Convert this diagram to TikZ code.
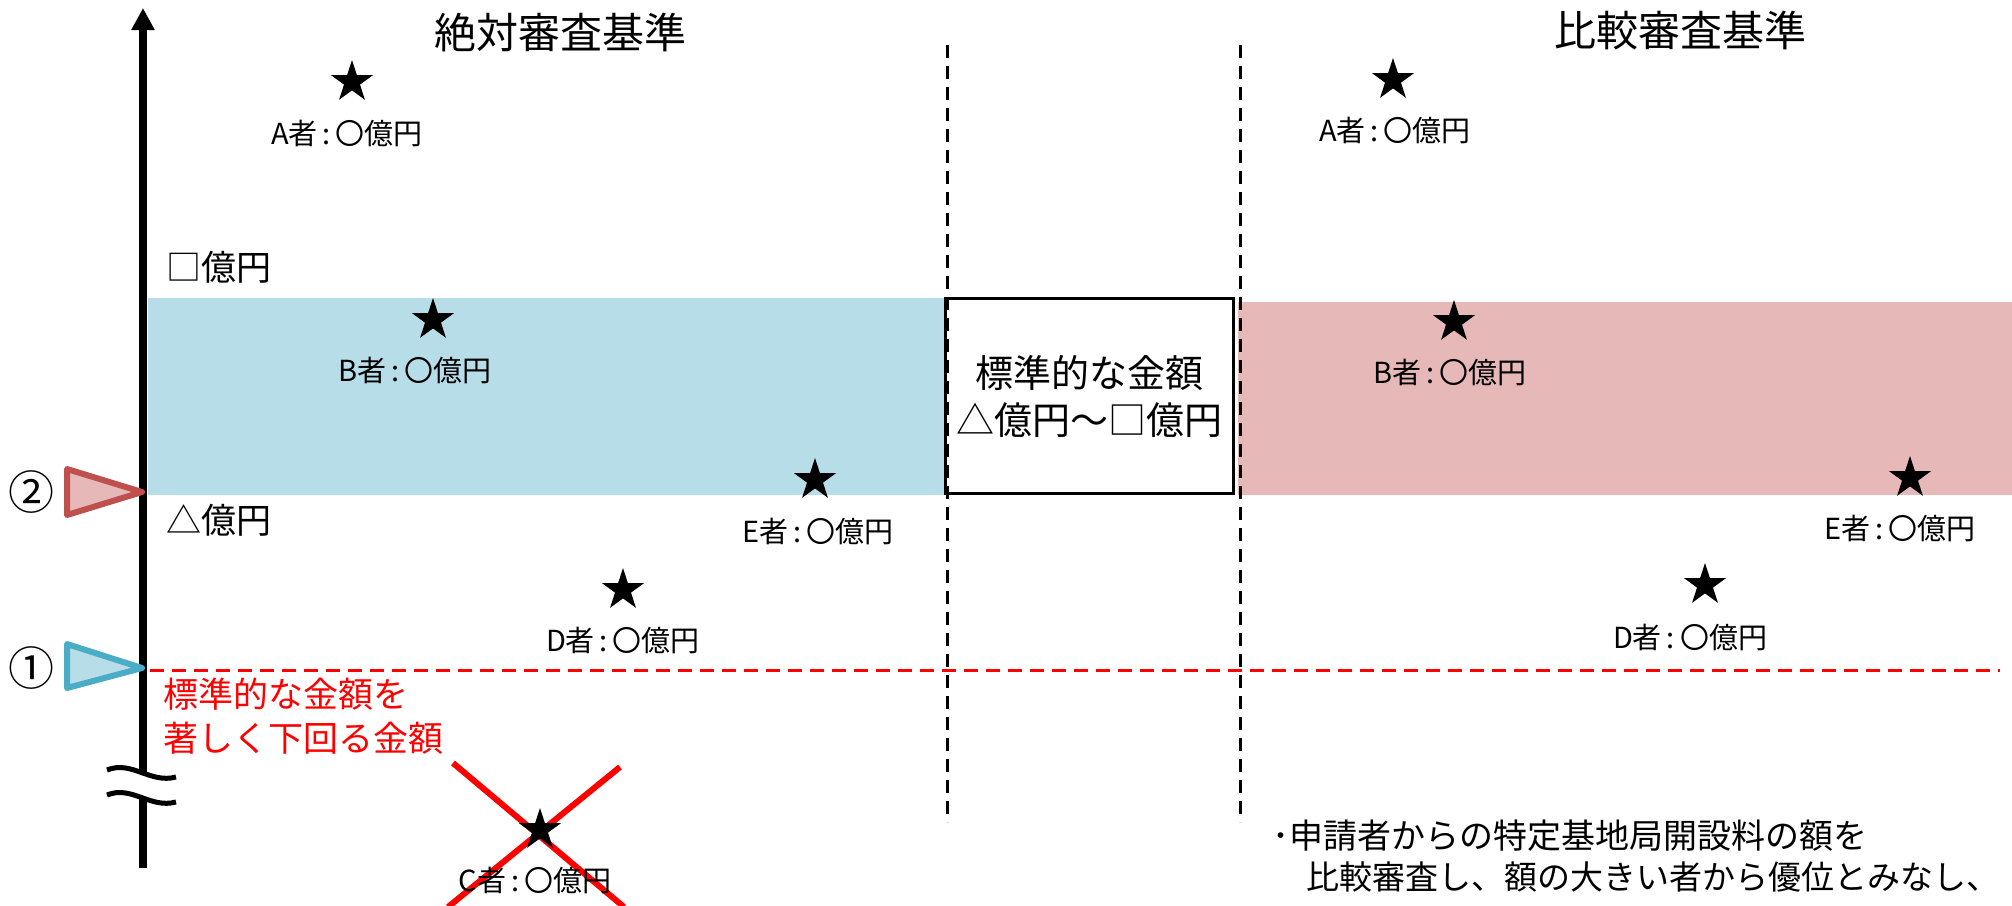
\documentclass[tikz,border=0pt]{standalone}
\usepackage{fontspec}
\setmainfont{Noto Sans CJK JP}
\newfontfamily\jp{Noto Sans CJK JP}
\usetikzlibrary{shapes.geometric,arrows.meta}
\definecolor{bandblue}{HTML}{B7DDE8}
\definecolor{bandpink}{HTML}{E6B9B8}
\definecolor{triblue}{HTML}{4BACC6}
\definecolor{tripink}{HTML}{C0504D}
\newcommand{\lbl}[1]{#1者\hspace{5pt}:\hspace{5pt}〇億円}
\tikzset{
  starmark/.style={star, star points=5, star point ratio=2.618, fill=black, minimum size=44pt, inner sep=0pt},
  lab/.style={font=\jp\fontsize{29}{34}\selectfont, inner sep=0pt},
  title/.style={font=\jp\fontsize{42}{48}\selectfont, inner sep=0pt},
  amt/.style={font=\jp\fontsize{35}{40}\selectfont, inner sep=0pt},
  redtxt/.style={font=\jp\fontsize{35}{44}\selectfont, text=red, inner sep=0pt, align=left},
  vdash/.style={line width=3pt, dash pattern=on 13pt off 8pt},
}
\begin{document}
\begin{tikzpicture}[x=1pt,y=-1pt]
\useasboundingbox (0,0) rectangle (2012,905);
% bands
\fill[bandblue] (148,298) rectangle (945,495);
\fill[bandpink] (1238,302) rectangle (2012,495);
\node[draw=black, line width=3pt, fill=white, minimum width=288pt, minimum height=195pt, inner sep=0pt] (mid) at (1089,396) {};
\node[font=\jp\fontsize{38}{47}\selectfont, align=center] (midtxt) at (1089,396) {標準的な金額\\△億円～□億円};
% dashed verticals
\coordinate (v1t) at (947,45); \coordinate (v1b) at (947,822);
\coordinate (v2t) at (1240,45); \coordinate (v2b) at (1240,822);
\draw[vdash] (v1t) -- (v1b);
\draw[vdash] (v2t) -- (v2b);
% red dashed line
\coordinate (rl) at (150,670); \coordinate (rr) at (2000,670);
\draw[red, line width=3pt, dash pattern=on 14pt off 8pt] (rl) -- (rr);
% axis
\coordinate (axtop) at (143,8); \coordinate (axbrk1) at (143,772);
\coordinate (axbrk2) at (143,797); \coordinate (axbot) at (143,868);
\draw[line width=8pt, -{Triangle[width=22pt,length=22pt]}] (axbrk1) -- (axtop);
\draw[line width=8pt] (axbrk2) -- (axbot);
\draw[line width=5pt] (107,770) .. controls (132,760) and (150,784) .. (176,777);
\draw[line width=5pt] (107,795) .. controls (132,785) and (150,809) .. (176,802);
% triangles
\draw[tripink, fill=bandpink, line width=6pt, line join=round] (67,469) -- (142,492) -- (67,515) -- cycle;
\draw[triblue, fill=bandblue, line width=6pt, line join=round] (67,644) -- (142,668) -- (67,688) -- cycle;
\node[font=\jp\fontsize{46}{50}\selectfont, inner sep=0pt] (n2) at (32,492) {②};
\node[font=\jp\fontsize{46}{50}\selectfont, inner sep=0pt] (n1) at (32,668) {①};
% titles
\node[title] (t1) at (560,32) {絶対審査基準};
\node[title] (t2) at (1680,30) {比較審査基準};
% amounts
\node[amt, anchor=west] (sq) at (166,267) {□億円};
\node[amt, anchor=west] (tr) at (166,520) {△億円};
% red text
\node[redtxt, anchor=north west] (red) at (163,678) {標準的な金額を\\著しく下回る金額};
% red X (behind C star)
\draw[red, line width=6pt] (453,763) -- (624,907);
\draw[red, line width=6pt] (620,767) -- (448,907);
% stars left
\node[starmark] (sA) at (352,82) {};
\node[lab] (lA) at (347,133) {\lbl{A}};
\node[starmark] (sB) at (433,320) {};
\node[lab] (lB) at (415,370) {\lbl{B}};
\node[starmark] (sE) at (815,480) {};
\node[lab] (lE) at (818,531) {\lbl{E}};
\node[starmark] (sD) at (623,590) {};
\node[lab] (lD) at (623,640) {\lbl{D}};
\node[starmark] (sC) at (540,830) {};
\node[lab] (lC) at (535,880) {\lbl{C}};
% stars right
\node[starmark] (rA) at (1393,80) {};
\node[lab] (rlA) at (1395,130) {\lbl{A}};
\node[starmark] (rB) at (1454,322) {};
\node[lab] (rlB) at (1450,372) {\lbl{B}};
\node[starmark] (rE) at (1910,478) {};
\node[lab] (rlE) at (1900,528) {\lbl{E}};
\node[starmark] (rD) at (1705,585) {};
\node[lab] (rlD) at (1690,637) {\lbl{D}};
% bottom text
\node[font=\jp\fontsize{34}{42}\selectfont, anchor=west, inner sep=0pt] (b1) at (1272,836) {･申請者からの特定基地局開設料の額を};
\node[font=\jp\fontsize{33}{42}\selectfont, anchor=west, inner sep=0pt] (b2) at (1306,877) {比較審査し、額の大きい者から優位とみなし、};
\end{tikzpicture}
\end{document}
